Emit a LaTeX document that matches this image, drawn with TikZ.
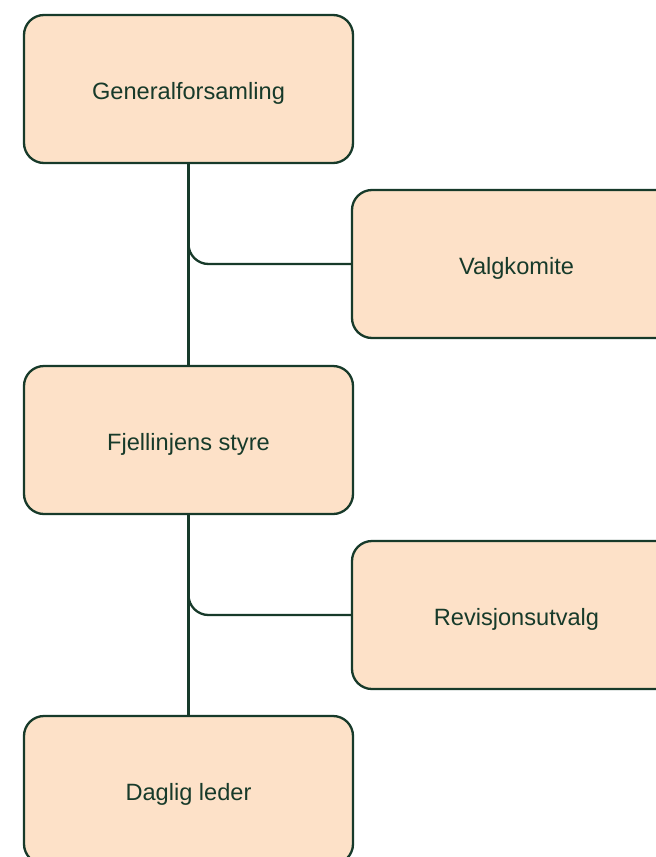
\documentclass[tikz,border=0pt]{standalone}
\usepackage{fontspec}
\setmainfont{Liberation Sans}
\definecolor{boxfill}{HTML}{FDE1C8}
\definecolor{ink}{HTML}{173A2A}
\begin{document}
\begin{tikzpicture}[x=1pt,y=-1pt,
  orgbox/.style={draw=ink, fill=boxfill, line width=2.3pt, rounded corners=20pt,
    minimum width=329pt, minimum height=148pt, text=ink,
    text height=20pt, text depth=0pt,
    font=\fontsize{23.6}{28}\selectfont, inner sep=0pt},
  link/.style={draw=ink, line width=2.3pt, rounded corners=20pt}]
\useasboundingbox (0,0) rectangle (656,857);
\clip (0,0) rectangle (656,857);
\fill[white] (0,0) rectangle (656,857);

% boxes of the organisation chart
\node[orgbox] (gen)   at (188.5,89)  {Generalforsamling};
\node[orgbox] (valg)  at (516.5,264) {Valgkomite};
\node[orgbox] (styre) at (188.5,440) {Fjellinjens styre};
\node[orgbox] (rev)   at (516.5,615) {Revisjonsutvalg};
\node[orgbox] (dag)   at (188.5,790) {Daglig leder};

% connectors
\draw[link] (gen.south) -- (styre.north);
\draw[link] (gen.south) |- (valg.west);
\draw[link] (styre.south) -- (dag.north);
\draw[link] (styre.south) |- (rev.west);
\end{tikzpicture}
\end{document}
